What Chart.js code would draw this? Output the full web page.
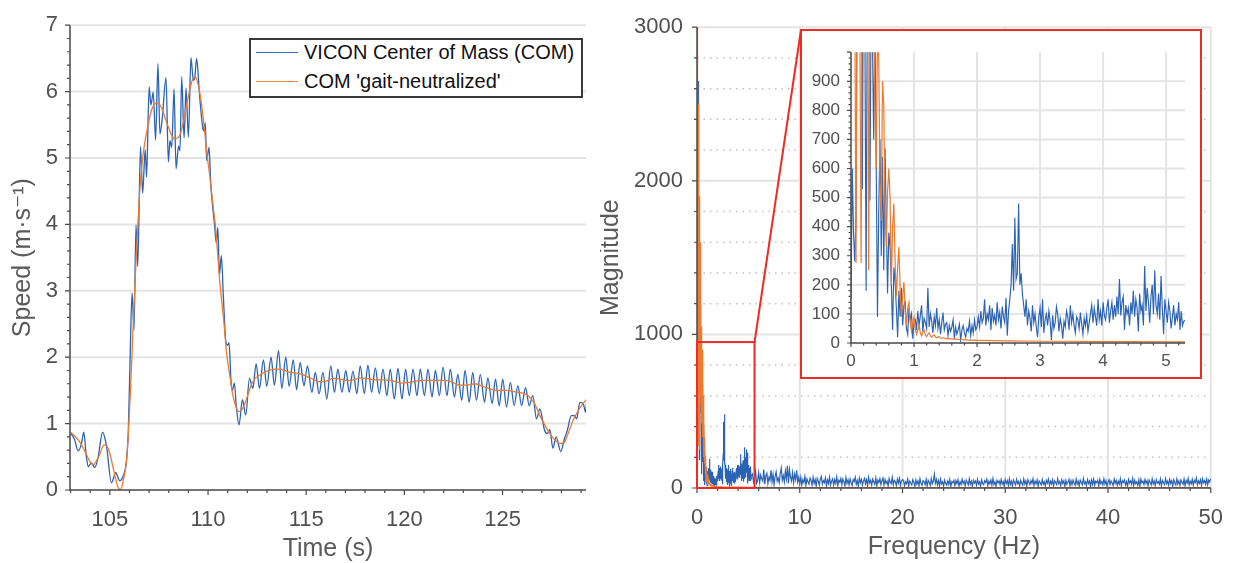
<!DOCTYPE html>
<html><head><meta charset="utf-8">
<script src="https://cdn.jsdelivr.net/npm/chart.js@4.4.1/dist/chart.umd.min.js"></script>
<style>
html,body{margin:0;padding:0;background:#fff;}
body{width:1240px;height:563px;position:relative;overflow:hidden;font-family:"Liberation Sans","DejaVu Sans",Arial,sans-serif;}
canvas{position:absolute;display:block;}
#c1{left:0;top:0;}
#c2{left:600px;top:0;}
#inset{position:absolute;left:800px;top:29px;width:402px;height:350px;border:2px solid #ee2b24;box-sizing:border-box;background:#fff;}
#c3{left:0;top:0;}
#legend{position:absolute;left:249px;top:38px;width:334px;height:60px;border:2px solid #3a3a3a;box-sizing:border-box;background:#fff;}
.lg{position:absolute;left:5px;height:24px;font-size:20px;line-height:24px;color:#111;white-space:nowrap;}
.lg .sw{display:inline-block;width:42px;height:0;border-top:1.5px solid;vertical-align:middle;margin-right:6px;position:relative;top:-1px;}
</style>
</head><body>
<canvas id="c1" width="600" height="563"></canvas>
<canvas id="c2" width="640" height="563"></canvas>
<div id="inset"><canvas id="c3" width="398" height="346"></canvas></div>
<div id="legend">
  <div class="lg" style="top:0px"><span class="sw" style="border-color:#3b6fc0"></span>VICON Center of Mass (COM)</div>
  <div class="lg" style="top:29px"><span class="sw" style="border-color:#f08a45"></span>COM 'gait-neutralized'</div>
</div>
<script>
// ---------- Left panel: speed over time ----------
const comTime = [103.0,103.2,103.38,103.55,103.67,103.8,103.9,104.06,104.23,104.4,
104.63,104.83,105.08,105.3,105.5,105.68,105.85,105.94,106.03,106.13,
106.23,106.33,106.42,106.56,106.67,106.8,106.87,107.0,107.09,107.21,
107.33,107.45,107.55,107.67,107.86,107.98,108.06,108.15,108.27,108.37,
108.5,108.57,108.66,108.78,108.88,109.0,109.13,109.25,109.32,109.42,
109.56,109.68,109.76,109.86,109.93,110.05,110.14,110.24,110.33,110.42,
110.5,110.58,110.68,110.78,110.91,110.99,111.07,111.17,111.24,111.34,
111.44,111.58,111.75,111.92,112.11,112.28,112.45,112.62,112.82,112.99,
113.21,113.38,113.59,113.76,113.96,114.13,114.34,114.51,
114.69,114.89,115.06,115.29,115.46,115.66,115.85,116.05,116.25,116.44,
116.61,116.82,117.02,117.19,117.38,117.58,117.75,117.96,118.14,118.33,
118.52,118.72,118.91,119.11,119.28,119.49,119.67,119.88,120.06,120.25,
120.44,120.64,120.81,121.02,121.2,121.41,121.58,121.78,121.97,122.17,
122.34,122.55,122.72,122.92,123.09,123.3,123.48,123.67,123.87,124.08,
124.25,124.47,124.64,124.83,125.01,125.2,125.4,125.59,125.78,125.97,
126.17,126.36,126.54,126.73,126.9,127.14,127.28,127.41,127.56,127.73,
127.96,128.16,128.3,128.5,128.67,128.77,128.94,129.11,129.23,129.28];
const comSpeed = [0.86,0.76,0.59,0.69,0.87,0.51,0.35,0.41,0.34,0.49,
0.87,0.66,0.11,0.26,0.14,0.21,0.45,0.89,1.96,2.97,
2.41,3.99,3.37,5.17,4.47,5.13,4.71,6.07,5.8,5.99,
5.27,6.42,5.36,5.6,6.21,4.94,5.26,5.16,6.04,4.84,
5.18,5.11,6.22,5.3,6.05,5.31,6.51,6.17,6.2,6.5,
5.98,5.58,5.41,5.53,4.96,5.16,4.61,4.25,4.0,3.72,
3.95,3.24,3.53,2.92,2.23,2.18,2.22,1.64,1.5,1.61,
1.26,0.98,1.36,1.13,1.68,1.53,1.9,1.53,1.96,1.56,
2.0,1.58,2.1,1.53,2.0,1.56,1.96,1.51,
1.92,1.57,1.87,1.47,1.77,1.45,1.77,1.37,1.87,1.47,
1.82,1.47,1.8,1.47,1.79,1.45,1.87,1.45,1.88,1.47,
1.84,1.45,1.82,1.42,1.82,1.37,1.83,1.37,1.82,1.42,
1.82,1.42,1.82,1.42,1.82,1.4,1.8,1.42,1.85,1.42,
1.82,1.4,1.74,1.35,1.8,1.32,1.77,1.35,1.74,1.32,
1.69,1.3,1.67,1.27,1.67,1.25,1.62,1.27,1.57,1.27,
1.54,1.27,1.42,1.07,1.22,0.9,0.85,0.91,0.63,0.8,
0.58,0.78,0.9,1.12,1.12,1.07,1.32,1.3,1.17,1.32];
const neutTime = [103.0,103.25,103.5,103.75,104.0,104.15,104.3,104.5,104.7,104.85,
105.0,105.15,105.3,105.45,105.55,105.7,105.85,105.95,106.05,106.15,
106.25,106.35,106.5,106.65,106.8,106.95,107.1,107.25,107.4,107.55,
107.7,107.85,108.0,108.15,108.3,108.45,108.6,108.75,108.9,109.05,
109.2,109.35,109.5,109.65,109.8,109.95,110.1,110.25,110.4,110.6,
110.8,110.95,111.1,111.25,111.4,111.6,111.75,111.9,112.05,112.2,
112.4,112.6,112.85,113.1,113.4,113.65,113.9,114.2,114.5,114.8,
115.1,115.4,115.7,116.0,116.4,116.7,117.0,117.4,117.75,118.1,
118.5,118.9,119.3,119.6,119.9,120.2,120.6,121.0,121.5,122.0,
122.4,122.8,123.2,123.6,124.0,124.4,124.8,125.2,125.6,126.0,
126.3,126.6,126.9,127.2,127.5,127.75,127.95,128.15,128.35,128.55,
128.75,128.95,129.15,129.25];
const neutSpeed = [0.87,0.80,0.71,0.57,0.42,0.38,0.43,0.55,0.68,0.66,
0.55,0.36,0.16,0.02,0.01,0.17,0.45,0.9,1.5,2.2,
2.9,3.56,4.4,4.95,5.27,5.5,5.7,5.8,5.83,5.8,
5.7,5.57,5.45,5.34,5.29,5.3,5.37,5.55,5.78,6.0,
6.17,6.23,6.1,5.85,5.48,5.05,4.7,4.3,3.9,3.13,
2.55,2.05,1.74,1.45,1.27,1.18,1.22,1.32,1.45,1.58,
1.68,1.72,1.77,1.8,1.82,1.82,1.8,1.77,1.76,1.74,
1.7,1.66,1.63,1.64,1.68,1.67,1.65,1.66,1.69,1.68,
1.66,1.66,1.65,1.63,1.61,1.62,1.64,1.65,1.65,1.65,
1.63,1.58,1.58,1.6,1.56,1.52,1.5,1.5,1.48,1.46,
1.42,1.32,1.12,0.95,0.81,0.73,0.70,0.72,0.86,1.02,
1.14,1.24,1.32,1.36];

// ---------- Right panel: magnitude spectra ----------
const fineStep = 0.02;            // Hz between fine bins of the COM spectrum (0 .. 5.28 Hz)
const comSpecFine = [150,600,380,280,450,1400,2300,1700,2650,530,1500,1100,180,1300,1600,490,1200,1050,700,1100,620,
90,450,700,300,640,250,670,420,170,380,330,200,45,260,210,120,20,180,90,190,60,130,140,50,30,120,80,100,15,70,
80,45,110,60,95,130,40,85,70,50,190,55,100,75,35,90,60,120,50,80,30,70,105,45,65,
70,25,60,40,55,80,15,55,30,45,65,10,45,60,35,20,50,40,75,25,60,35,80,45,55,
90,55,110,70,85,150,60,100,80,130,45,120,75,95,60,140,80,105,50,125,90,70,155,25,110,
150,200,340,180,430,220,240,480,200,240,170,130,90,
150,60,110,85,40,130,70,100,55,20,90,120,55,150,35,80,100,60,110,75,10,95,50,70,125,100,40,85,60,15,
75,55,110,90,45,130,70,100,60,35,90,80,50,105,65,30,85,60,95,40,70,
100,130,70,120,90,60,150,80,110,60,140,95,80,120,150,70,110,140,80,130,90,160,100,220,95,140,160,45,130,100,120,
60,140,100,180,90,150,120,40,170,110,130,60,265,110,190,140,70,160,200,100,250,130,100,170,80,230,120,30,150,110,
70,140,110,50,90,130,60,100,80,140,45,110,60,75];
const coarseStart = 5.4, coarseStep = 0.1;   // Hz, coarse bins 5.4 .. 50
const comSpecCoarse = [90,40,70,110,30,50,100,35,85,60, 45,120,25,80,95,30,70,50,115,40,
90,20,75,105,45,65,35,95,130,50, 80,40,110,60,145,30,120,70,45,100, 35,90,55,115,40,70,25,
70,20,55,35,75,15,60,40,25,65, 50,18,70,30,55,12,62,45,20,58, 75,25,48,35,66,15,52,28,70,20,
45,60,18,55,30,72,14,50,38,62, 22,58,40,15,68,30,52,20,60,35, 16,55,42,70,25,48,12,64,36,56,
20,45,62,28,54,15,70,32,50,18, 58,40,24,66,14,52,36,60,22,48, 65,18,55,30,45,12,62,38,28,70,
20,50,42,16,58,32,64,18,46,55,
50,15,40,28,58,12,45,32,20,55, 38,10,52,25,46,14,60,30,18,48, 42,22,56,12,50,35,16,62,28,44,
90,30,55,20,48,14,58,26,40,12, 52,30,18,46,24,56,10,42,34,50, 16,48,28,54,12,40,22,58,30,45,
14,52,36,20,60,25,44,10,50,32, 46,18,56,26,40,12,54,30,22,48, 36,58,14,44,28,52,18,62,24,40,
12,50,34,46,20,56,26,42,10,54, 30,48,16,60,24,44,12,52,36,20, 56,28,42,14,50,32,18,58,26,46,
12,54,38,22,48,30,60,16,44,28, 52,10,46,34,20,56,24,40,14,50, 32,58,18,44,26,52,12,48,36,22,
60,28,42,16,54,30,46,10,50,24, 38,56,14,48,22,52,32,18,58,26, 44,12,50,36,20,62,28,40,16,54,
30,46,10,52,24,58,18,44,34,50, 14,56,28,42,20,60,26,48,12,38, 54,22,46,32,16,58,30,50,18,44,
26,60,14,48,36,52,20,42,10,56, 32,46,24,62,16,50,28,40,18,54, 12,58,34,44,22,56,30,48,14,52,
38,20,60,26,46,16,54,32,42,24, 58,14,50,36,22,62,28,44,18,56, 30,48,12,54,34,20,60,26,46,16,
52,38,24,58,14,48,32,62,20,44, 28,56,18,50,36,64,22,46,30,54, 16,60,34,48,24,58,20,52,38,62];
const neutStep = 0.02;            // Hz between bins of the gait-neutralized spectrum (0 .. 2 Hz)
const neutSpecFine = [3400,2800,1800,1200,275,1500,2500,1100,275,1400,
1900,1300,1400,1700,250,1200,1600,1100,1200,800,
600,1050,980,560,420,900,820,450,330,520,
600,500,200,400,480,280,160,260,330,190,
90,160,210,110,60,120,140,70,40,75,
90,50,30,45,60,35,25,38,45,28,
22,30,35,24,20,25,28,20,18,21,
22,17,16,18,18,15,15,15,15,14,
14,13,13,13,13,12,12,12,12,11,
11,11,11,10,10,10,10,10,10,9,9];
const neutTailFreq = [2.5,3,3.5,4,4.5,5,6,8,10,20,30,40,50];
const neutTailMag  = [7,6,6,5,5,4,4,3,3,2,2,2,2];
const zoomBoxFreq = [0, 5.6];     // zoomed region marked on the main spectrum
const zoomBoxMag  = [0, 950];

// ---------- helpers ----------
const FONT = "'Liberation Sans','DejaVu Sans',Arial,sans-serif";
const AXIS = '#4a4a4a', GRID = '#e4e4e4', RED = '#ee2b24';
const BLUE = '#2a63b5', ORANGE = '#ec7a30';
const TICKC = '#505050', TITLEC = '#5a5a5a';
const pts = (xs, ys) => xs.map((x, i) => ({x: x, y: ys[i]}));
const fineFreq = comSpecFine.map((_, i) => +(i * fineStep).toFixed(2));
const coarseFreq = comSpecCoarse.map((_, i) => +(coarseStart + i * coarseStep).toFixed(2));
const comSpec = pts(fineFreq.concat(coarseFreq), comSpecFine.concat(comSpecCoarse));
const neutFineFreq = neutSpecFine.map((_, i) => +(i * neutStep).toFixed(2));
const neutSpec = pts(neutFineFreq.concat(neutTailFreq), neutSpecFine.concat(neutTailMag));

function eachStep(min, max, step, fn) {
  const k0 = Math.ceil(min / step - 1e-6), k1 = Math.floor(max / step + 1e-6);
  for (let k = k0; k <= k1; k++) fn(+(k * step).toFixed(6));
}
function isMult(v, step) { const r = v / step; return Math.abs(r - Math.round(r)) < 1e-6; }

const framePlugin = {
  id: 'frame',
  beforeDatasetsDraw(chart, _a, o) {
    const {ctx, chartArea: a, scales: {x, y}} = chart;
    ctx.save();
    if (o.dotY) {
      ctx.strokeStyle = '#c2c2c2'; ctx.lineWidth = 1.5; ctx.setLineDash([1.5, 5]);
      eachStep(y.min, y.max, o.dotY, v => {
        if (v === 0 || (o.gridY && isMult(v, o.gridY))) return;
        const p = y.getPixelForValue(v);
        ctx.beginPath(); ctx.moveTo(a.left, p); ctx.lineTo(a.right, p); ctx.stroke();
      });
      ctx.setLineDash([]);
    }
    ctx.strokeStyle = GRID; ctx.lineWidth = o.gridWidth || 2;
    if (o.gridY) eachStep(y.min, o.gridYMax || y.max, o.gridY, v => {
      if (v <= y.min) return;
      const p = y.getPixelForValue(v);
      ctx.beginPath(); ctx.moveTo(a.left, p); ctx.lineTo(a.right, p); ctx.stroke();
    });
    if (o.gridX) eachStep(x.min, x.max, o.gridX, v => {
      if (v <= x.min) return;
      const p = x.getPixelForValue(v);
      ctx.beginPath(); ctx.moveTo(p, a.top); ctx.lineTo(p, a.bottom); ctx.stroke();
    });
    ctx.restore();
  },
  afterDatasetsDraw(chart, _a, o) {
    const {ctx, chartArea: a, scales: {x, y}} = chart;
    ctx.save();
    ctx.strokeStyle = AXIS; ctx.lineWidth = o.axisWidth || 1.5;
    ctx.beginPath(); ctx.moveTo(a.left, a.top); ctx.lineTo(a.left, a.bottom); ctx.lineTo(a.right, a.bottom); ctx.stroke();
    const t = o.ticks;
    ctx.beginPath();
    eachStep(x.min, x.max, t.xMinor, v => {
      const p = x.getPixelForValue(v), len = isMult(v, t.xMajor) ? t.major : t.minor;
      ctx.moveTo(p, a.bottom); ctx.lineTo(p, a.bottom + len);
    });
    eachStep(y.min, y.max, t.yMinor, v => {
      const p = y.getPixelForValue(v), len = isMult(v, t.yMajor) ? t.major : t.minor;
      ctx.moveTo(a.left - len, p); ctx.lineTo(a.left, p);
    });
    ctx.lineWidth = t.width || 1.2; ctx.stroke();
    if (o.zoomBox) {
      const x0 = x.getPixelForValue(o.zoomBox.f[0]), x1 = x.getPixelForValue(o.zoomBox.f[1]);
      const y0 = y.getPixelForValue(o.zoomBox.m[0]), y1 = y.getPixelForValue(o.zoomBox.m[1]);
      ctx.strokeStyle = RED; ctx.lineWidth = 2;
      ctx.strokeRect(x0, y1, x1 - x0, y0 - y1);
      const r = document.getElementById('inset').getBoundingClientRect();
      const c = chart.canvas.getBoundingClientRect();
      ctx.beginPath(); ctx.moveTo(x1, y1); ctx.lineTo(r.left - c.left + 1, r.top - c.top + 1); ctx.stroke();
    }
    ctx.restore();
  }
};

function tickBuilder(step, tmax) {
  return s => { const out = []; eachStep(s.min, tmax === undefined ? s.max : tmax, step, v => out.push({value: v})); s.ticks = out; };
}
function axisX(min, max, step, size, pad, h, title, tsize, tlh, tpb) {
  return {type: 'linear', min: min, max: max,
    afterFit: s => { s.height = h; },
    afterBuildTicks: tickBuilder(step),
    grid: {display: false, drawTicks: false}, border: {display: false},
    ticks: {stepSize: step, autoSkip: false, maxRotation: 0, padding: pad,
      color: TICKC, font: {family: FONT, size: size}, callback: v => String(v)},
    title: title ? {display: true, text: title, color: TITLEC, font: {family: FONT, size: tsize, lineHeight: tlh}, padding: {top: 0, bottom: tpb}} : {display: false}};
}
function axisY(min, max, step, tmax, size, pad, w, title, tsize, tlh, tpt) {
  return {type: 'linear', min: min, max: max,
    afterFit: s => { s.width = w; },
    afterBuildTicks: tickBuilder(step, tmax),
    grid: {display: false, drawTicks: false}, border: {display: false},
    ticks: {stepSize: step, autoSkip: false, padding: pad,
      color: TICKC, font: {family: FONT, size: size}, callback: v => String(v)},
    title: title ? {display: true, text: title, color: TITLEC, font: {family: FONT, size: tsize, lineHeight: tlh}, padding: {top: tpt, bottom: 0}} : {display: false}};
}
const common = {responsive: false, animation: false, devicePixelRatio: 1, events: []};

// Left chart
new Chart(document.getElementById('c1'), {
  type: 'line',
  data: {datasets: [
    {data: pts(comTime, comSpeed), borderColor: BLUE, borderWidth: 1.3, pointRadius: 0, cubicInterpolationMode: 'monotone', order: 2},
    {data: pts(neutTime, neutSpeed), borderColor: ORANGE, borderWidth: 1.3, pointRadius: 0, cubicInterpolationMode: 'monotone', order: 1}
  ]},
  options: Object.assign({}, common, {
    layout: {padding: {left: 0, top: 19, right: 14, bottom: 0}},
    scales: {
      x: axisX(102.97, 129.25, 5, 22, 17, 73, 'Time (s)', 25, 1.1, 0),
      y: axisY(0, 7, 1, 7, 22, 12, 70, 'Speed (m\u00b7s\u207b\u00b9)', 25, 1.2, 8)
    },
    plugins: {legend: {display: false}, tooltip: {enabled: false},
      frame: {gridY: 1, ticks: {xMinor: 1, xMajor: 5, yMinor: 0.2, yMajor: 1, major: 5, minor: 3}}}
  }),
  plugins: [framePlugin]
});

// Right chart
new Chart(document.getElementById('c2'), {
  type: 'line',
  data: {datasets: [
    {data: comSpec, borderColor: BLUE, borderWidth: 1.2, pointRadius: 0, tension: 0, order: 2},
    {data: neutSpec, borderColor: ORANGE, borderWidth: 1.3, pointRadius: 0, tension: 0, order: 1}
  ]},
  options: Object.assign({}, common, {
    layout: {padding: {left: 0, top: 18, right: 27, bottom: 0}},
    scales: {
      x: axisX(0, 50, 10, 22, 17, 75, 'Frequency (Hz)', 25, 1.2, 1),
      y: axisY(0, 3000, 1000, 3000, 22, 14, 97, 'Magnitude', 25, 0.9, 0)
    },
    plugins: {legend: {display: false}, tooltip: {enabled: false},
      frame: {gridY: 1000, dotY: 200, gridX: 10,
        ticks: {xMinor: 2, xMajor: 10, yMinor: 200, yMajor: 1000, major: 5, minor: 3},
        zoomBox: {f: zoomBoxFreq, m: zoomBoxMag}}}
  }),
  plugins: [framePlugin]
});

// Inset chart
new Chart(document.getElementById('c3'), {
  type: 'line',
  data: {datasets: [
    {data: comSpec, borderColor: BLUE, borderWidth: 1.15, pointRadius: 0, tension: 0, order: 2},
    {data: neutSpec, borderColor: ORANGE, borderWidth: 1.2, pointRadius: 0, tension: 0, order: 1}
  ]},
  options: Object.assign({}, common, {
    layout: {padding: {left: 0, top: 7, right: 15, bottom: 0}},
    scales: {
      x: axisX(0, 5.3, 1, 17, 8, 34, null),
      y: axisY(0, 1000, 100, 900, 17, 11, 49, null)
    },
    plugins: {legend: {display: false}, tooltip: {enabled: false},
      frame: {gridY: 100, gridYMax: 900, gridX: 1, axisWidth: 1.5,
        ticks: {xMinor: 0.2, xMajor: 1, yMinor: 20, yMajor: 100, major: 4, minor: 2.5}}}
  }),
  plugins: [framePlugin]
});
</script>
</body></html>
